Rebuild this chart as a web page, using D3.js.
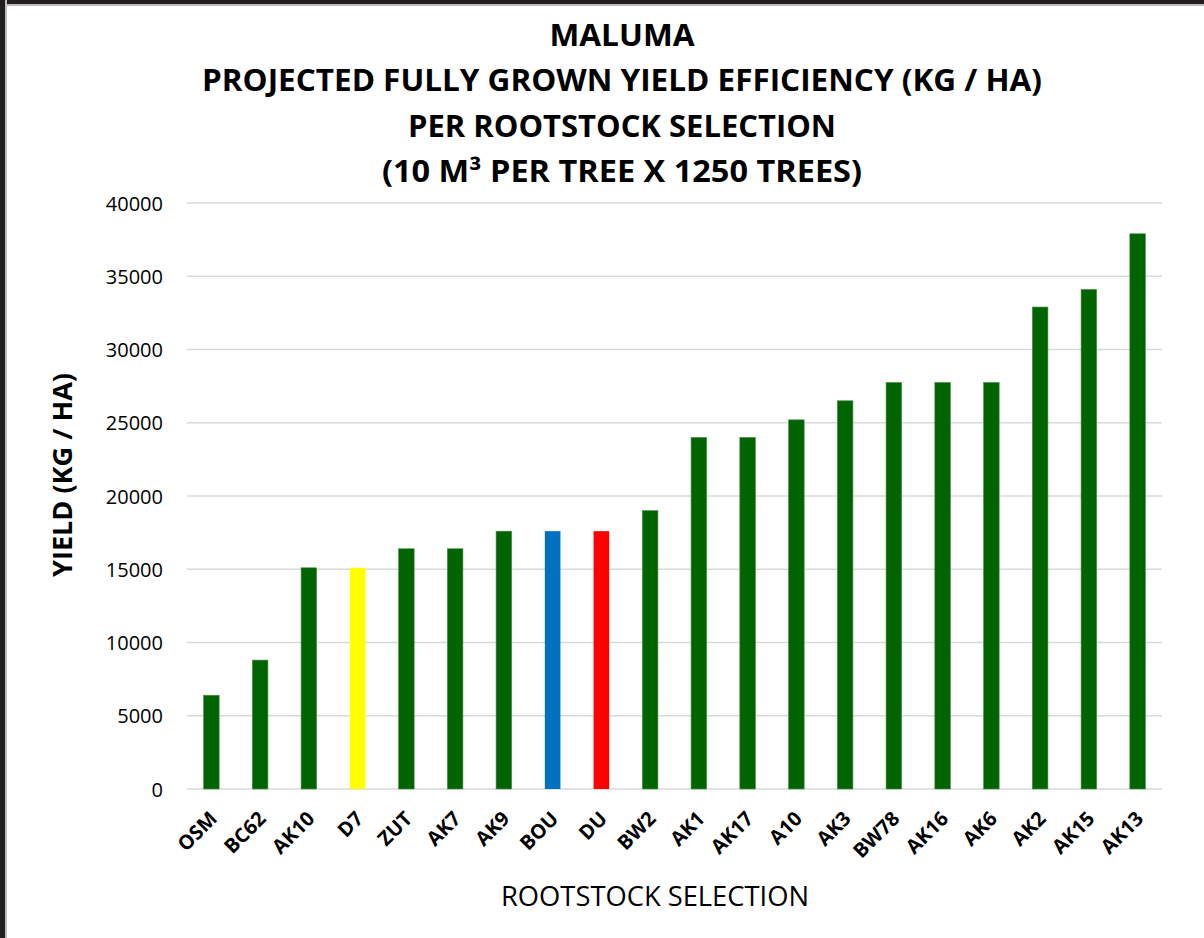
<!DOCTYPE html>
<html>
<head>
<meta charset="utf-8">
<script src="https://cdn.jsdelivr.net/npm/d3@7"></script>
<style>
  html, body { margin: 0; padding: 0; background: #fff; }
  svg { display: block; }
</style>
</head>
<body>
<svg id="chart" width="1204" height="938"></svg>
<script>
// rootstock selections, left to right
const categories = ["OSM", "BC62", "AK10", "D7", "ZUT", "AK7", "AK9", "BOU", "DU", "BW2",
  "AK1", "AK17", "A10", "AK3", "BW78", "AK16", "AK6", "AK2", "AK15", "AK13"];
// projected yield, kg / ha
const yields = [6400, 8800, 15100, 15100, 16400, 16400, 17600, 17600, 17600, 19000,
  24000, 24000, 25200, 26500, 27750, 27750, 27750, 32900, 34100, 37900];
// highlighted bars (everything else is green)
const highlight = { D7: "#ffff00", BOU: "#0070c0", DU: "#ff0000" };
const yTicks = [0, 5000, 10000, 15000, 20000, 25000, 30000, 35000, 40000];
const titleLines = [
  "MALUMA",
  "PROJECTED FULLY GROWN YIELD EFFICIENCY (KG / HA)",
  "PER ROOTSTOCK SELECTION",
  "(10 M\u00b3 PER TREE X 1250 TREES)"
];

const svg = d3.select("#chart");
const font = "'Open Sans', 'Noto Sans', sans-serif";

/** Plot area bounds. */
const plotL = 187, plotR = 1162, plotT = 203, plotB = 789;

// screenshot frame (dark edge top and left)
svg.append("rect").attr("x", 0).attr("y", 0).attr("width", 1204).attr("height", 6).attr("fill", "#bdbdbd");
svg.append("rect").attr("x", 0).attr("y", 0).attr("width", 1204).attr("height", 4).attr("fill", "#231f20");
svg.append("rect").attr("x", 0).attr("y", 0).attr("width", 7).attr("height", 938).attr("fill", "#bdbdbd");
svg.append("rect").attr("x", 0).attr("y", 0).attr("width", 5).attr("height", 938).attr("fill", "#231f20");

const x = d3.scaleBand().domain(categories).range([plotL, plotR])
  .paddingInner(0.68).paddingOuter(0.34);
const y = d3.scaleLinear().domain([0, 40000]).range([plotB, plotT]);

// gridlines
svg.append("g")
  .selectAll("line")
  .data(yTicks)
  .join("line")
  .attr("x1", plotL).attr("x2", plotR)
  .attr("y1", (d) => y(d)).attr("y2", (d) => y(d))
  .attr("stroke", "#d9d9d9")
  .attr("stroke-width", 1.5);

// y axis labels
const yAxis = svg.append("g")
  .attr("transform", `translate(${plotL - 24},0)`)
  .call(d3.axisLeft(y).tickValues(yTicks).tickSize(0).tickPadding(0).tickFormat(d3.format("d")));
yAxis.select(".domain").remove();
yAxis.selectAll("text")
  .attr("font-family", font)
  .attr("font-size", 20)
  .attr("fill", "#000")
  .attr("dy", "0.36em");

// bars
svg.append("g")
  .selectAll("rect")
  .data(categories)
  .join("rect")
  .attr("x", (d) => x(d))
  .attr("width", x.bandwidth())
  .attr("y", (d, i) => y(yields[i]))
  .attr("height", (d, i) => y(0) - y(yields[i]))
  .attr("fill", (d) => highlight[d] || "#006400")
  .attr("stroke", (d) => (highlight[d] ? "none" : "#4f8f4f"))
  .attr("stroke-width", 0.6);

// x labels, rotated
svg.append("g")
  .selectAll("text")
  .data(categories)
  .join("text")
  .attr("transform", (d) => `translate(${x(d) + x.bandwidth() / 2 + 7},${plotB + 31}) rotate(-45)`)
  .attr("text-anchor", "end")
  .attr("font-family", font)
  .attr("font-weight", 700)
  .attr("font-size", 20)
  .attr("fill", "#000")
  .text((d) => d);

// title
const titleWidths = [145, 840, 428, 480];
const titleBase = [46, 91, 137, 182];
svg.append("g")
  .selectAll("text")
  .data(titleLines)
  .join("text")
  .attr("x", 622)
  .attr("y", (d, i) => titleBase[i])
  .attr("text-anchor", "middle")
  .attr("font-family", font)
  .attr("font-weight", 700)
  .attr("font-size", 30)
  .attr("fill", "#000")
  .attr("textLength", (d, i) => titleWidths[i])
  .attr("lengthAdjust", "spacingAndGlyphs")
  .text((d) => d);

// axis titles
svg.append("text")
  .attr("transform", "translate(72,475) rotate(-90)")
  .attr("text-anchor", "middle")
  .attr("font-family", font)
  .attr("font-weight", 700)
  .attr("font-size", 27)
  .attr("fill", "#000")
  .attr("textLength", 204)
  .attr("lengthAdjust", "spacingAndGlyphs")
  .text("YIELD (KG / HA)");

svg.append("text")
  .attr("x", 655)
  .attr("y", 906)
  .attr("text-anchor", "middle")
  .attr("font-family", font)
  .attr("font-weight", 500)
  .attr("font-size", 28)
  .attr("fill", "#000")
  .attr("textLength", 308)
  .attr("lengthAdjust", "spacingAndGlyphs")
  .text("ROOTSTOCK SELECTION");
</script>
</body>
</html>
